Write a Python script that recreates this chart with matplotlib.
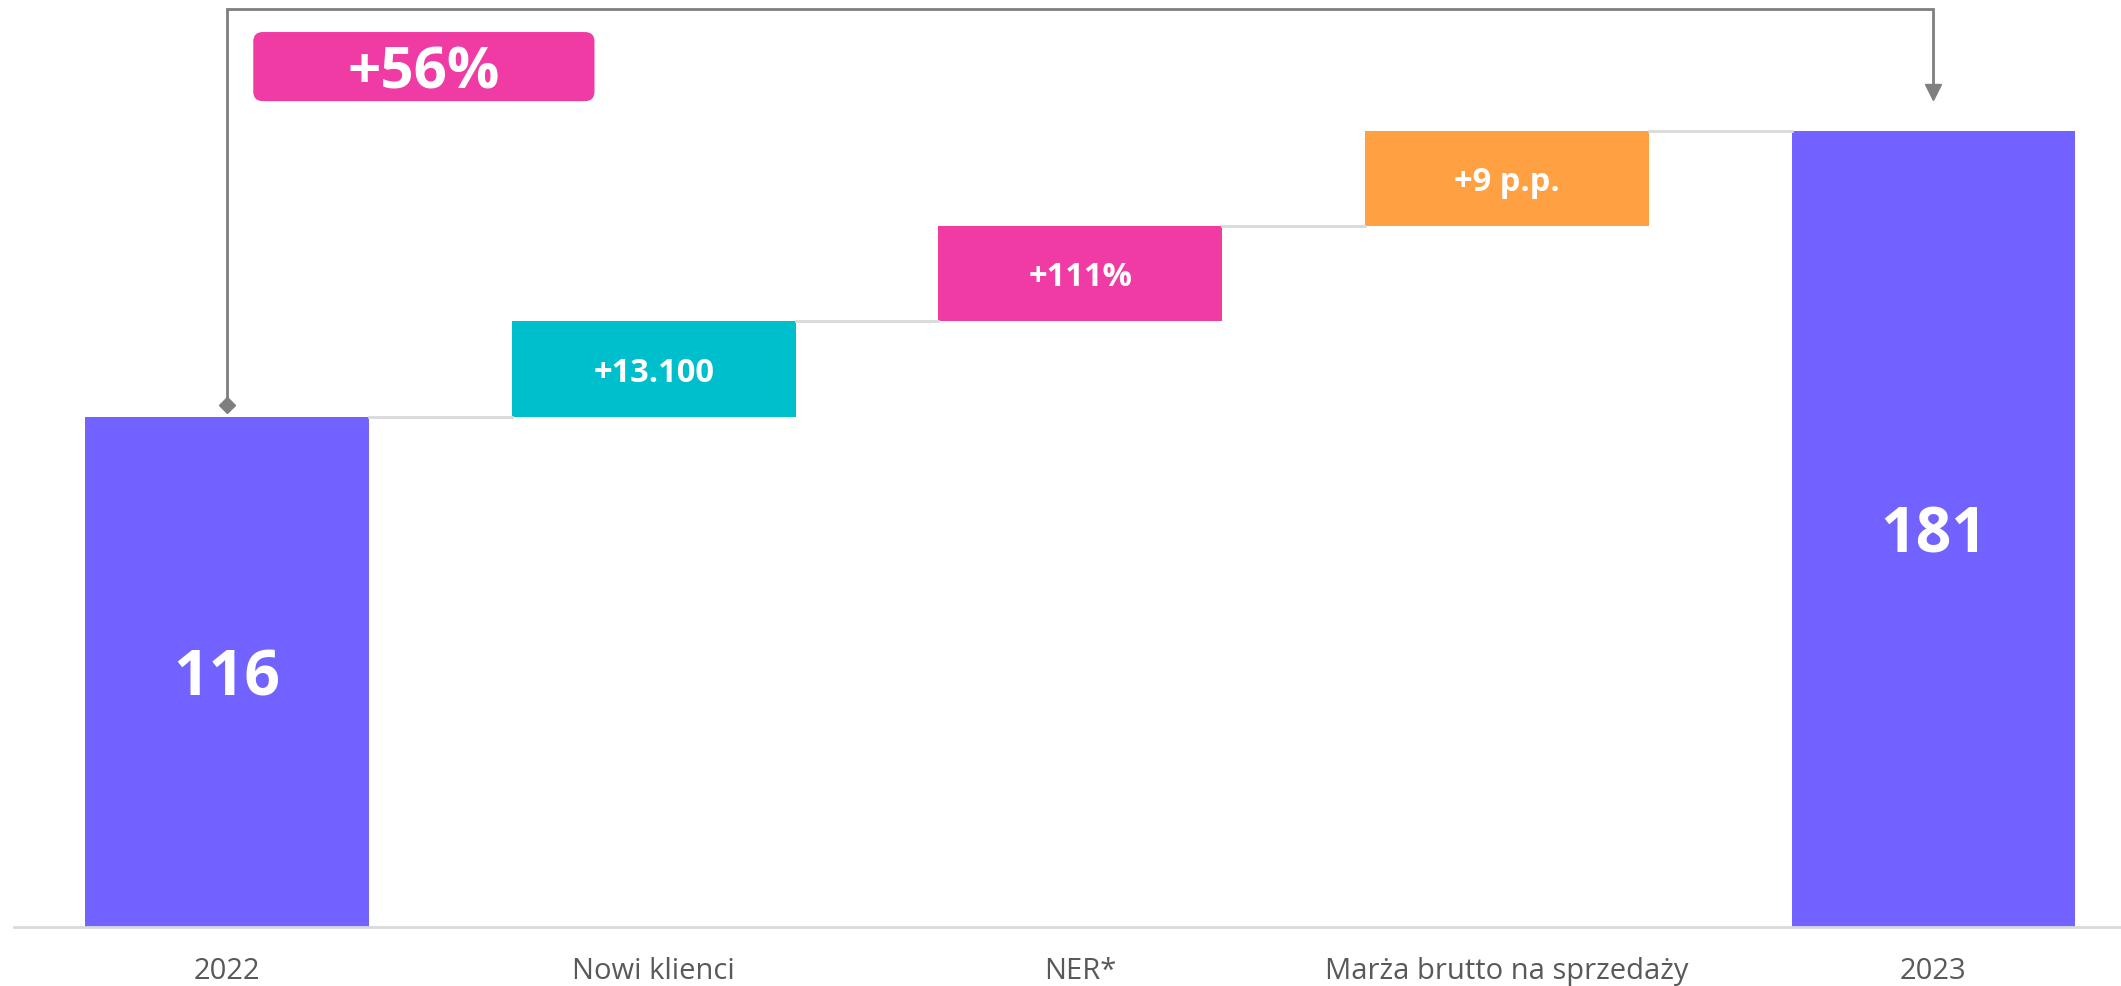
import matplotlib.pyplot as plt
from matplotlib.patches import FancyBboxPatch

plt.rcParams["font.family"] = ["Open Sans", "DejaVu Sans"]

# Waterfall data: start/end totals and the three contributing steps
categories = ["2022", "Nowi klienci", "NER*", "Marża brutto na sprzedaży", "2023"]
start_value = 116
end_value = 181
step_values = [21.7, 21.6, 21.7]
step_labels = ["+13.100", "+111%", "+9 p.p."]
growth_label = "+56%"

purple = "#7262FF"
step_colors = ["#00BFCC", "#F03AA4", "#FFA142"]
grey_line = "#D9D9D9"
bracket_grey = "#7F7F7F"

DPI = 100
PX_PER_UNIT = 4.4      # vertical pixels per data unit
PX_PER_CAT = 427.25    # horizontal pixels per category

fig = plt.figure(figsize=(21.21, 9.87), dpi=DPI)
ax = fig.add_axes([14 / 2121, 1 - 928 / 987, 1 - 14 / 2121, 928 / 987])


def centered_label(xc, yc, text, size, **kw):
    # put the cap height of the text centred on yc (data units)
    half_cap = size / 72 * DPI * 0.714 / 2 / PX_PER_UNIT
    ax.text(xc, yc - half_cap, text, ha="center", va="baseline",
            color="white", fontsize=size, fontweight="bold", **kw)


width = 0.665
x = list(range(len(categories)))

# totals
ax.bar(x[0], start_value, width=width, color=purple)
ax.bar(x[-1], end_value, width=width, color=purple)
centered_label(x[0], start_value / 2, str(start_value), 45)
centered_label(x[-1], end_value / 2, str(end_value), 45)

# floating steps
levels = [start_value]
for i, (val, lab, col) in enumerate(zip(step_values, step_labels, step_colors)):
    bottom = levels[-1]
    ax.bar(x[i + 1], val, bottom=bottom, width=width, color=col)
    centered_label(x[i + 1], bottom + val / 2, lab, 23.5)
    levels.append(bottom + val)

# connector lines between consecutive bars
for i, lvl in enumerate(levels):
    ax.plot([x[i] + width / 2, x[i + 1] - width / 2], [lvl, lvl],
            color=grey_line, lw=2, zorder=1)

# bracket from 2022 to 2023
y_top = 208.6
ax.plot([x[0], x[0], x[-1], x[-1]], [118.6, y_top, y_top, 189.7],
        color=bracket_grey, lw=2, solid_joinstyle="miter", zorder=3)
ax.plot(x[0], 118.6, marker="D", ms=8, color=bracket_grey, zorder=4)
ax.plot(x[-1], 189.7, marker="v", ms=12, color=bracket_grey, zorder=4)

# growth badge
bx, by, bw, bh = 0.061, 187.7, 0.80, 15.7
badge = FancyBboxPatch((bx, by), bw, bh,
                       boxstyle="round,pad=0,rounding_size=0.022",
                       mutation_aspect=PX_PER_CAT / PX_PER_UNIT,
                       facecolor="#F03AA4", edgecolor="none", zorder=3)
ax.add_patch(badge)
centered_label(bx + bw / 2, by + bh / 2, growth_label, 42, zorder=4)

ax.set_xlim(-0.5, 4.44)
ax.set_ylim(0, 928 / PX_PER_UNIT)
ax.set_xticks(x)
ax.set_xticklabels(categories, fontsize=21, color="#595959")
ax.tick_params(axis="x", length=0, pad=21)
ax.set_yticks([])
for side in ["left", "right", "top"]:
    ax.spines[side].set_visible(False)
ax.spines["bottom"].set_color(grey_line)
ax.spines["bottom"].set_linewidth(2)

fig.savefig("out.png", dpi=DPI)
